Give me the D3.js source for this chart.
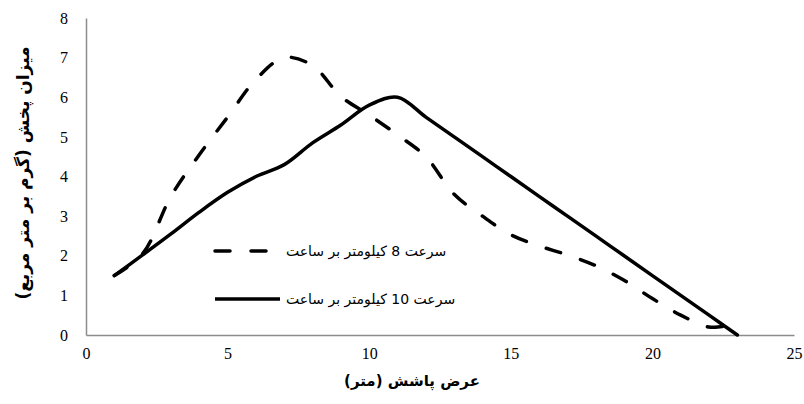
<!DOCTYPE html>
<html>
<head>
<meta charset="utf-8">
<script src="https://cdn.jsdelivr.net/npm/d3@7"></script>
<style>
  body { margin: 0; background: #fff; }
  .title { font-family: 'DejaVu Sans', sans-serif; font-weight: bold; fill: #000; }
  .legend-text { font-family: 'DejaVu Sans', sans-serif; font-size: 14px; fill: #000; }
</style>
</head>
<body>
<svg id="chart"></svg>
<script>
const w = 804, h = 404;
const margin = { left: 86, right: 8, top: 18, bottom: 69 };

// Values
const speed8X = [1, 2, 3, 4, 5, 6, 7, 8, 9, 10, 11, 12, 13, 14, 15, 16, 17, 18, 19, 20, 21, 22, 22.6, 23];
const speed8Y = [1.5, 2.05, 3.5, 4.55, 5.5, 6.45, 7.0, 6.8, 6.02, 5.55, 5.05, 4.5, 3.55, 3.0, 2.53, 2.25, 2.02, 1.75, 1.38, 0.92, 0.5, 0.2, 0.2, 0];
const speed10X = [1, 2, 3, 4, 5, 6, 7, 8, 9, 10, 11, 12, 13, 14, 15, 16, 17, 18, 19, 20, 21, 22, 23];
const speed10Y = [1.5, 2.02, 2.55, 3.1, 3.6, 4.0, 4.3, 4.85, 5.3, 5.8, 6.0, 5.5, 5.0, 4.5, 4.0, 3.5, 3.0, 2.5, 2.0, 1.5, 1.0, 0.5, 0];
const xTicks = [0, 5, 10, 15, 20, 25];
const yTicks = [0, 1, 2, 3, 4, 5, 6, 7, 8];
const seriesNames = ['سرعت 8 کیلومتر بر ساعت', 'سرعت 10 کیلومتر بر ساعت'];
const xTitle = 'عرض پاشش (متر)';
const yTitle = 'میزان پخش (گرم بر متر مربع)';

const chart = d3.select('#chart')
    .attr('width', w)
    .attr('height', h);

const xScale = d3.scaleLinear()
    .domain([0, 25])
    .range([margin.left, w - margin.right - 2]);

const yScale = d3.scaleLinear()
    .domain([0, 8])
    .range([h - margin.bottom, margin.top]);

// axes: grey lines, no tick marks, serif digits
const styleAxis = g => {
    g.select('.domain').attr('stroke', '#8c8c8c').attr('stroke-width', 1.5);
    g.selectAll('text')
        .style('font-family', '"Liberation Serif", "Times New Roman", serif')
        .style('font-size', '16px')
        .style('fill', '#000');
};

chart.append('g')
    .attr('transform', `translate(0, ${yScale(0)})`)
    .call(d3.axisBottom(xScale).tickValues(xTicks).tickSize(0).tickPadding(13).tickFormat(d3.format('d')))
    .call(styleAxis);

chart.append('g')
    .attr('transform', `translate(${xScale(0)}, 0)`)
    .call(d3.axisLeft(yScale).tickValues(yTicks).tickSize(0).tickPadding(18).tickFormat(d3.format('d')))
    .call(styleAxis);

const line = d3.line()
    .x(d => xScale(d[0]))
    .y(d => yScale(d[1]))
    .curve(d3.curveCatmullRom);

const series = [
    { pts: d3.zip(speed8X, speed8Y), dash: '15,21' },
    { pts: d3.zip(speed10X, speed10Y), dash: null }
];

series.forEach(s => {
    chart.append('path')
        .datum(s.pts)
        .attr('d', line)
        .attr('fill', 'none')
        .attr('stroke', '#000')
        .attr('stroke-width', 3.5)
        .attr('stroke-linecap', 'round')
        .attr('stroke-linejoin', 'round')
        .attr('stroke-dasharray', s.dash);
});

// legend
const legend = chart.append('g');
const legendRows = [
    { y: 251, x2: 270, dash: '15,21' },
    { y: 299, x2: 280, dash: null }
];
legendRows.forEach((r, i) => {
    legend.append('line')
        .attr('x1', 215).attr('x2', r.x2)
        .attr('y1', r.y).attr('y2', r.y)
        .attr('stroke', '#000')
        .attr('stroke-width', 3.5)
        .attr('stroke-linecap', r.dash ? 'round' : 'butt')
        .attr('stroke-dasharray', r.dash);
    legend.append('text')
        .attr('class', 'legend-text')
        .attr('x', 286)
        .attr('y', r.y + 5)
        .attr('direction', 'rtl')
        .attr('text-anchor', 'end')
        .text(seriesNames[i]);
});

// axis titles
chart.append('text')
    .attr('class', 'title')
    .attr('font-size', 15)
    .attr('x', 412)
    .attr('y', 386)
    .attr('direction', 'rtl')
    .attr('text-anchor', 'middle')
    .text(xTitle);

chart.append('text')
    .attr('class', 'title')
    .attr('font-size', 17)
    .attr('transform', 'translate(29, 173) rotate(-90)')
    .attr('direction', 'rtl')
    .attr('text-anchor', 'middle')
    .text(yTitle);
</script>
</body>
</html>
